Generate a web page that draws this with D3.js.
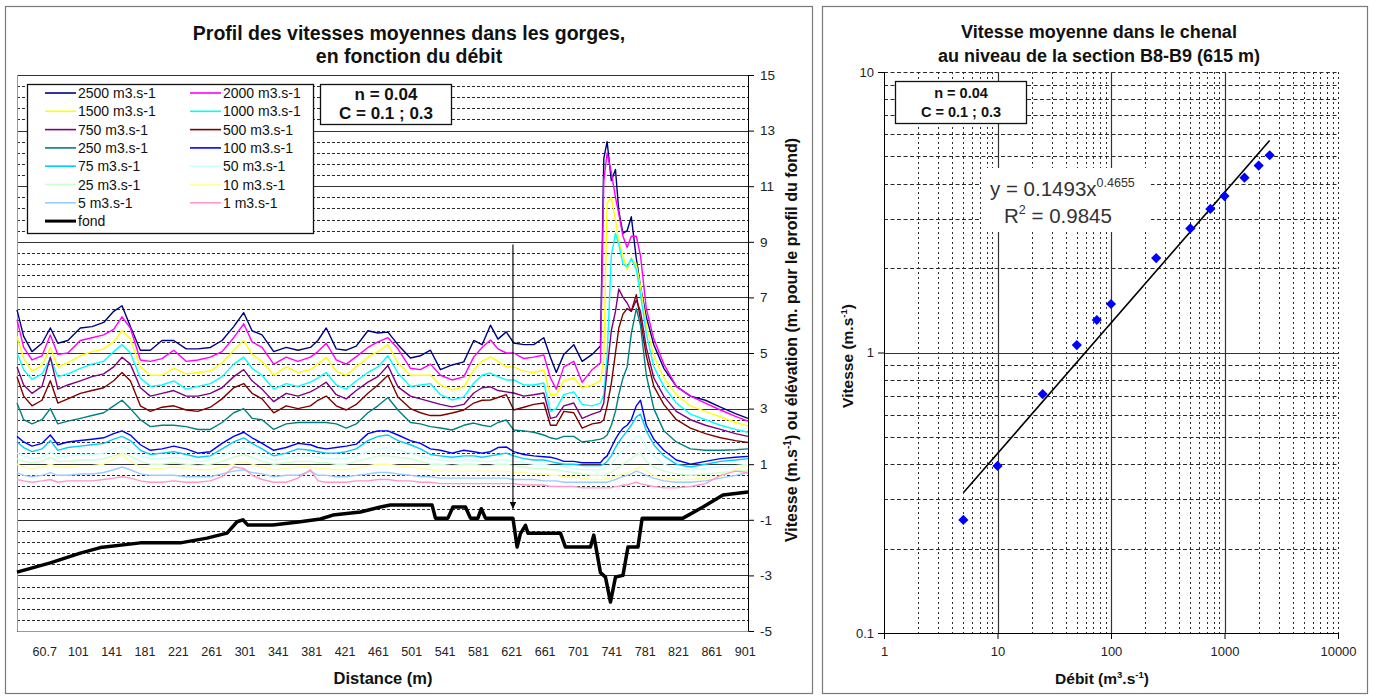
<!DOCTYPE html>
<html><head><meta charset="utf-8">
<script src="https://cdn.jsdelivr.net/npm/d3@7"></script>
<style>
body{margin:0;background:#fff;}
svg{display:block;font-family:'Liberation Sans',Arial,Helvetica,sans-serif;}
</style></head><body>
<svg id="c" width="1373" height="698"></svg>
<script>
// ================= DATA : left chart =================
const distances = [28,36,46,58,68,77,89,104,118,132,144,154,164,176,188,202,216,231,245,260,274,288,300,310,322,336,351,365,380,389,399,411,423,435,449,461,473,485,500,512,524,536,550,564,576,586,596,605,615,624,636,648,660,668,675,684,696,706,718,728,732,736,741,746,750,755,760,765,771,776,783,792,804,819,836,854,872,890,905];
const q2500 = [6.55,5.6,5.05,5.35,5.9,5.35,5.45,5.9,5.95,6.1, 6.5,6.7,5.95,5.1,5.1,5.45,5.45,5.15,5.15,5.2, 5.45,5.95,6.45,5.8,5.65,5.05,5.2,5.1,5.2,5.45, 5.9,5.15,5.1,5.25,5.8,5.72,5.75,5.3,4.82,4.9, 5.1,4.4,4.57,4.68,5.45,5.3,6.0,5.5,5.76,5.36, 5.3,5.3,5.55,4.85,4.3,4.95,5.3,4.7,4.95,5.25, 12.0,12.6,11.2,11.6,10.1,9.3,9.4,9.9,8.4,7.4, 6.3,5.3,4.45,3.8,3.45,3.3,3.05,2.82,2.65];
const q2000 = [6.2,5.2,4.75,4.9,5.65,4.95,5.0,5.45,5.55,5.65, 5.85,6.3,5.9,4.75,4.7,4.8,5.1,4.7,4.75,4.85, 5.05,5.55,6.05,5.4,5.2,4.6,4.85,4.7,4.85,5.05, 5.35,4.75,4.6,4.87,5.2,5.4,5.55,5.15,4.45,4.4, 4.6,4.2,4.03,4.14,4.86,5.2,5.47,5.15,5.0,5.0, 4.8,4.85,4.93,4.1,3.7,4.5,4.7,3.95,4.4,4.65, 11.2,12.2,11.5,10.6,10.0,9.2,8.8,9.2,9.2,8.5, 6.6,5.5,4.6,3.8,3.45,3.2,2.95,2.72,2.55];
const q1500 = [5.6,4.8,4.35,4.55,5.2,4.5,4.65,4.9,5.05,5.15, 5.4,5.8,5.5,4.5,4.2,4.2,4.45,4.25,4.3,4.35, 4.65,5.1,5.45,4.95,4.7,4.2,4.5,4.3,4.4,4.6, 4.85,4.35,4.2,4.5,4.85,5.05,5.3,4.64,4.2,4.2, 4.2,3.85,3.67,3.78,4.39,4.7,4.86,4.7,4.5,4.5, 4.35,4.3,4.39,3.5,3.5,4.0,4.1,3.75,3.85,4.0, 4.8,10.4,10.6,9.8,9.0,8.5,8.0,8.4,8.2,7.4, 6.0,4.9,4.1,3.5,3.1,2.9,2.7,2.5,2.38];
const q1000 = [5.0,4.4,4.05,4.25,4.8,4.15,4.25,4.45,4.6,4.7, 5.05,5.3,5.0,4.1,3.8,3.85,4.0,3.7,3.8,3.9, 4.15,4.6,4.85,4.45,4.2,3.7,3.9,3.8,3.95,4.1, 4.3,3.85,3.7,4.0,4.3,4.5,4.9,4.28,3.8,3.85, 3.9,3.5,3.31,3.42,3.92,4.2,4.28,4.15,4.03,4.03, 3.85,3.85,3.92,2.9,3.0,3.5,3.6,3.15,3.1,3.2, 3.5,4.9,8.5,9.3,8.9,8.2,8.1,8.4,8.0,7.1, 5.7,4.5,3.8,3.2,2.8,2.6,2.4,2.25,2.15];
const q750 = [4.5,3.85,3.55,3.8,4.85,3.7,3.85,4.0,4.15,4.25, 4.5,4.85,4.6,3.75,3.45,3.55,3.65,3.45,3.45,3.55, 3.75,4.15,4.4,4.0,3.7,3.25,3.55,3.45,3.6,3.75, 3.95,3.5,3.35,3.65,3.95,4.15,4.55,3.78,3.45,3.35, 3.25,3.15,3.06,3.15,3.56,3.75,3.78,3.65,3.6,3.56, 3.45,3.5,3.56,2.65,2.7,3.1,3.2,2.65,2.8,2.9, 3.2,4.4,5.8,6.5,7.3,7.0,6.8,6.5,6.9,6.5, 5.2,4.1,3.45,2.9,2.6,2.4,2.25,2.1,2.0];
const q500 = [4.15,3.45,3.1,3.3,4.0,3.2,3.35,3.55,3.65,3.75, 4.0,4.3,4.0,3.1,2.9,3.05,3.1,2.95,2.9,3.05, 3.35,3.75,3.9,3.55,3.35,2.85,3.1,3.0,3.1,3.3, 3.45,3.1,2.95,3.15,3.55,3.85,4.2,3.42,3.0,2.85, 2.75,2.75,2.84,2.95,3.2,3.3,3.31,3.4,3.5,2.95, 3.05,3.15,3.2,2.4,2.4,2.9,2.85,2.3,2.45,2.5, 2.6,3.1,3.9,5.0,5.9,6.4,6.6,6.5,7.1,6.2, 4.9,3.8,3.15,2.6,2.3,2.1,1.95,1.85,1.78];
const q250 = [3.2,2.6,2.45,2.6,3.0,2.45,2.55,2.65,2.75,2.85, 3.1,3.3,3.0,2.6,2.35,2.4,2.4,2.35,2.25,2.25, 2.5,2.85,3.0,2.65,2.6,2.25,2.45,2.5,2.5,2.5, 2.5,2.45,2.3,2.45,2.85,3.1,3.4,2.95,2.5,2.45, 2.35,2.3,2.23,2.4,2.48,2.4,2.35,2.5,2.59,2.23, 2.2,2.15,2.05,1.95,1.9,2.0,2.0,1.8,1.85,1.9, 1.95,2.05,2.4,2.9,3.5,4.1,4.5,5.7,6.6,6.0, 4.2,3.0,2.2,1.8,1.55,1.5,1.5,1.52,1.55];
const q100 = [2.0,1.8,1.65,1.75,2.05,1.7,1.8,1.85,1.9,1.95, 2.1,2.2,2.05,1.7,1.5,1.55,1.65,1.55,1.4,1.45, 1.75,2.0,2.15,1.95,1.75,1.5,1.6,1.75,1.7,1.6, 1.55,1.6,1.65,1.72,2.1,2.2,2.2,2.05,1.85,1.75, 1.55,1.5,1.4,1.5,1.45,1.4,1.45,1.6,1.62,1.45, 1.35,1.3,1.27,1.25,1.2,1.1,1.1,1.05,1.05,1.05, 1.2,1.3,1.6,1.9,2.1,2.3,2.4,2.6,3.1,3.3, 2.4,1.9,1.5,1.15,1.0,1.1,1.2,1.25,1.28];
const q75 = [1.8,1.6,1.45,1.55,1.85,1.5,1.6,1.65,1.7,1.75, 1.9,2.0,1.85,1.5,1.35,1.4,1.45,1.35,1.25,1.3, 1.55,1.8,1.95,1.75,1.55,1.3,1.4,1.55,1.5,1.45, 1.4,1.4,1.45,1.55,1.85,2.0,2.05,1.85,1.7,1.55, 1.35,1.3,1.25,1.3,1.3,1.25,1.3,1.35,1.4,1.3, 1.2,1.15,1.15,1.1,1.05,1.0,1.0,0.95,0.95,0.95, 1.0,1.1,1.3,1.6,1.8,2.0,2.2,2.4,2.7,2.8, 2.2,1.7,1.3,1.0,0.9,1.0,1.1,1.15,1.2];
const q50 = [1.4,1.3,1.2,1.25,1.45,1.25,1.3,1.35,1.35,1.4, 1.55,1.65,1.5,1.3,1.2,1.2,1.25,1.2,1.1,1.15, 1.3,1.5,1.6,1.45,1.3,1.15,1.2,1.3,1.3,1.25, 1.2,1.2,1.2,1.3,1.45,1.55,1.6,1.5,1.4,1.3, 1.2,1.15,1.1,1.15,1.15,1.1,1.1,1.15,1.15,1.1, 1.05,1.0,1.0,0.95,0.95,0.9,0.85,0.8,0.8,0.8, 0.85,0.9,1.0,1.2,1.35,1.5,1.65,1.8,2.0,2.0, 1.6,1.3,1.0,0.85,0.8,0.85,0.9,0.95,1.0];
const q25 = [1.2,1.1,1.05,1.1,1.25,1.1,1.1,1.15,1.15,1.2, 1.3,1.4,1.3,1.1,1.0,1.0,1.05,1.0,0.95,1.0, 1.1,1.25,1.35,1.25,1.1,1.0,1.05,1.1,1.1,1.05, 1.05,1.0,1.0,1.1,1.2,1.3,1.3,1.25,1.2,1.1, 1.0,1.0,0.95,1.0,1.0,0.95,0.95,1.0,1.0,0.95, 0.9,0.85,0.85,0.8,0.8,0.75,0.7,0.65,0.6,0.6, 0.6,0.65,0.7,0.8,0.9,1.0,1.1,1.2,1.35,1.4, 1.1,0.9,0.75,0.65,0.6,0.65,0.7,0.75,0.8];
const q10 = [1.0,0.9,0.85,0.9,1.0,0.9,0.9,0.95,0.95,1.0, 1.2,1.35,1.1,0.9,0.85,0.85,0.9,0.85,0.8,0.8, 0.9,1.0,1.1,1.0,0.9,0.8,0.85,0.9,0.9,0.85, 0.85,0.8,0.8,0.85,0.95,1.0,1.0,0.95,0.9,0.85, 0.8,0.75,0.75,0.75,0.75,0.75,0.75,0.75,0.75,0.7, 0.7,0.65,0.65,0.6,0.6,0.55,0.55,0.5,0.45,0.45, 0.45,0.5,0.5,0.55,0.6,0.65,0.7,0.75,0.85,0.9, 0.75,0.6,0.5,0.45,0.45,0.5,0.55,0.8,0.95];
const q5 = [0.7,0.6,0.55,0.6,0.7,0.6,0.6,0.65,0.65,0.7, 0.8,0.9,0.8,0.65,0.6,0.6,0.6,0.55,0.55,0.55, 0.65,0.75,0.8,0.7,0.65,0.55,0.6,0.6,0.75,0.6, 0.6,0.55,0.55,0.6,0.65,0.7,0.7,0.65,0.6,0.55, 0.55,0.5,0.5,0.5,0.5,0.5,0.5,0.5,0.5,0.45, 0.45,0.45,0.4,0.4,0.4,0.35,0.35,0.35,0.35,0.35, 0.35,0.35,0.4,0.45,0.5,0.55,0.6,0.65,0.75,0.7, 0.6,0.5,0.4,0.35,0.35,0.4,0.5,0.6,0.7];
const q1 = [0.45,0.4,0.35,0.4,0.45,0.35,0.4,0.4,0.4,0.45, 0.5,0.55,0.5,0.4,0.35,0.35,0.4,0.35,0.35,0.4, 0.55,0.9,0.85,0.6,0.45,0.35,0.35,0.5,0.8,0.4, 0.35,0.35,0.35,0.4,0.4,0.45,0.45,0.4,0.4,0.35, 0.35,0.3,0.3,0.3,0.3,0.3,0.3,0.3,0.3,0.3, 0.25,0.25,0.25,0.2,0.2,0.2,0.2,0.15,0.15,0.15, 0.15,0.15,0.15,0.2,0.2,0.25,0.25,0.3,0.35,0.3, 0.25,0.2,0.15,0.15,0.2,0.3,0.6,0.75,0.7];
const fondDist = [28,68,104,128,176,224,256,280,292,299,305,335,368,392,407,440,464,476,526,530,545,551,566,572,581,585,590,623,628,632,638,641,680,686,716,720,728,734,740,746,755,761,773,778,827,851,875,905];
const fondElev = [-2.88,-2.55,-2.2,-2.0,-1.83,-1.83,-1.66,-1.48,-1.07,-1.0,-1.19,-1.19,-1.07,-0.97,-0.83,-0.72,-0.54,-0.47,-0.47,-0.94,-0.94,-0.54,-0.54,-0.94,-0.94,-0.6,-0.94,-0.94,-1.98,-1.5,-1.2,-1.48,-1.48,-1.98,-1.98,-1.55,-2.9,-3.06,-3.96,-3.06,-3.0,-1.98,-1.98,-0.94,-0.94,-0.54,-0.11,0.0];
const seriesNames = ["2500 m3.s-1","2000 m3.s-1","1500 m3.s-1","1000 m3.s-1","750 m3.s-1","500 m3.s-1","250 m3.s-1","100 m3.s-1","75 m3.s-1","50 m3.s-1","25 m3.s-1","10 m3.s-1","5 m3.s-1","1 m3.s-1"];
const seriesValues = [q2500,q2000,q1500,q1000,q750,q500,q250,q100,q75,q50,q25,q10,q5,q1];
const distanceTicks = [60.7,101,141,181,221,261,301,341,381,421,461,501,541,581,621,661,701,741,781,821,861,901];
const elevationTicks = [15,13,11,9,7,5,3,1,-1,-3,-5];
const arrowDistance = 623, arrowFrom = 8.9, arrowTo = -0.6;
const leftTitle = ["Profil des vitesses moyennes dans les gorges,","en fonction du débit"];
const paramText = ["n = 0.04","C = 0.1 ; 0.3"];

// ================= DATA : right chart =================
const debits = [5,10,25,50,75,100,250,500,750,1000,1500,2000,2500];
const vitesses = [0.253,0.394,0.711,1.063,1.306,1.489,2.17,2.77,3.25,3.61,4.20,4.64,5.05];
const trendDebit = [5,2500];
const trendVitesse = [0.316,5.70];
const debitTicks = [1,10,100,1000,10000];
const vitesseTicks = [0.1,1,10];
const rightTitle = ["Vitesse moyenne dans le chenal","au niveau de la section B8-B9 (615 m)"];

// ================= STYLE =================
const seriesColors = ["#000080","#FF00FF","#FFFF00","#00FFFF","#800080","#800000","#008080","#0000FF","#00CCFF","#CCFFFF","#CCFFCC","#FFFF99","#99CCFF","#FF99CC"];
const GRID = "#2a2a2a";
const FONT = "'Liberation Sans',Arial,sans-serif";

const svg = d3.select("#c");
svg.append("rect").attr("width",1373).attr("height",698).attr("fill","#fff");

// panels
svg.append("rect").attr("x",5.5).attr("y",6.5).attr("width",807).attr("height",687).attr("fill","#fff").attr("stroke","#7a7a7a").attr("stroke-width",1.2);
svg.append("rect").attr("x",822.5).attr("y",6.5).attr("width",545).attr("height",687).attr("fill","#fff").attr("stroke","#7a7a7a").attr("stroke-width",1.2);

// ---------- left chart ----------
const L = {x0:17, x1:748, y0:75, y1:631};
const xL = d3.scaleLinear().domain([28,905]).range([L.x0,L.x1]);
const yL = d3.scaleLinear().domain([-5,15]).range([L.y1,L.y0]);
const gl = svg.append("g");

const minorVals = d3.range(0,51).map(k=>-5+0.4*k).filter((v,k)=>k%5!==0);
gl.selectAll("line.minor").data(minorVals).join("line")
  .attr("x1",L.x0).attr("x2",L.x1).attr("y1",d=>Math.round(yL(d))+0.5).attr("y2",d=>Math.round(yL(d))+0.5)
  .attr("stroke",GRID).attr("stroke-width",1).attr("stroke-dasharray","3,2");
gl.selectAll("line.major").data(elevationTicks).join("line")
  .attr("x1",L.x0).attr("x2",L.x1).attr("y1",d=>Math.round(yL(d))+0.5).attr("y2",d=>Math.round(yL(d))+0.5)
  .attr("stroke","#333").attr("stroke-width",1.2);
gl.append("line").attr("x1",L.x0+0.5).attr("x2",L.x0+0.5).attr("y1",L.y0).attr("y2",L.y1).attr("stroke","#999");

const lineL = d3.line().x((d,i)=>xL(distances[i])).y(d=>yL(d));
seriesValues.forEach((vals,k)=>{
  gl.append("path").attr("d",lineL(vals)).attr("fill","none").attr("stroke",seriesColors[k]).attr("stroke-width",1.4).attr("stroke-linejoin","round");
});
const lineF = d3.line().x((d,i)=>xL(fondDist[i])).y(d=>yL(d));
gl.append("path").attr("d",lineF(fondElev)).attr("fill","none").attr("stroke","#000").attr("stroke-width",3.5).attr("stroke-linejoin","round");

const defs = svg.append("defs");
defs.append("marker").attr("id","arr").attr("viewBox","0 0 10 10").attr("refX",10).attr("refY",5)
  .attr("markerWidth",6).attr("markerHeight",6).attr("orient","auto")
  .append("path").attr("d","M0,0L10,5L0,10z").attr("fill","#000");
gl.append("line").attr("x1",xL(arrowDistance)).attr("x2",xL(arrowDistance)).attr("y1",yL(arrowFrom)).attr("y2",yL(arrowTo))
  .attr("stroke","#000").attr("stroke-width",1.1).attr("marker-end","url(#arr)");

const axR = gl.append("g").attr("transform",`translate(${L.x1},0)`)
  .call(d3.axisRight(yL).tickValues(elevationTicks).tickSize(6).tickFormat(d=>String(d)));
axR.select(".domain").attr("stroke","#000");
axR.selectAll(".tick line").attr("stroke","#000");
axR.selectAll("text").attr("font-size",13.5).attr("fill","#222").attr("font-family",FONT).attr("x",12);

const axB = gl.append("g").attr("transform",`translate(0,${L.y1})`)
  .call(d3.axisBottom(xL).tickValues(distanceTicks).tickSize(0).tickFormat(d=>String(d)));
axB.select(".domain").attr("stroke","#999");
axB.selectAll("text").attr("font-size",12.5).attr("fill","#222").attr("font-family",FONT).attr("y",16);

gl.selectAll("text.t").data(leftTitle).join("text").attr("x",409).attr("y",(d,i)=>40+i*23)
  .attr("text-anchor","middle").attr("font-weight","bold").attr("font-size",19.5).attr("fill","#111").text(d=>d);
gl.append("text").attr("x",383).attr("y",684).attr("text-anchor","middle").attr("font-weight","bold").attr("font-size",16.5).attr("fill","#111").text("Distance (m)");
const yt = gl.append("text").attr("transform","translate(797,340) rotate(-90)").attr("text-anchor","middle")
  .attr("font-weight","bold").attr("font-size",16).attr("fill","#111");
yt.append("tspan").text("Vitesse (m.s");
yt.append("tspan").attr("dy",-6).attr("font-size",10).text("-1");
yt.append("tspan").attr("dy",6).text(") ou élévation (m. pour le profil du fond)");

const lg = gl.append("g");
lg.append("rect").attr("x",27.5).attr("y",84.5).attr("width",286).attr("height",149).attr("fill","#fff").attr("stroke","#111").attr("stroke-width",1.3);
const legendItems = seriesNames.map((n,i)=>({name:n,color:seriesColors[i],w:1.6})).concat([{name:"fond",color:"#000",w:3}]);
legendItems.forEach((it,i)=>{
  const col = i<14 ? i%2 : 0, row = Math.floor(i/2);
  const lx = col===0 ? 45 : 190, ty = 93 + row*18.3;
  lg.append("line").attr("x1",lx).attr("x2",lx+31).attr("y1",ty).attr("y2",ty).attr("stroke",it.color).attr("stroke-width",it.w);
  lg.append("text").attr("x",lx+33).attr("y",ty+5).attr("font-size",14).attr("fill","#111").text(it.name);
});

gl.append("rect").attr("x",320.5).attr("y",84.5).attr("width",131).attr("height",40).attr("fill","#fff").attr("stroke","#111").attr("stroke-width",1.3);
gl.selectAll("text.p").data(paramText).join("text").attr("x",386).attr("y",(d,i)=>100+i*19)
  .attr("text-anchor","middle").attr("font-weight","bold").attr("font-size",17).attr("fill","#111").text(d=>d);

// ---------- right chart ----------
const R = {x0:884, x1:1338, y0:72, y1:633};
const xR = d3.scaleLog().domain([1,10000]).range([R.x0,R.x1]);
const yR = d3.scaleLog().domain([0.1,10]).range([R.y1,R.y0]);
const gr = svg.append("g");

const xMinor = [], yMinor = [];
[1,10,100,1000].forEach(b=>{ for(let m=2;m<=9;m++) xMinor.push(b*m); });
xMinor.push(10000);
[0.1,1].forEach(b=>{ for(let m=2;m<=9;m++) yMinor.push(b*m); });
yMinor.push(10);

gr.selectAll("line.ym").data(yMinor).join("line")
  .attr("x1",R.x0).attr("x2",R.x1).attr("y1",d=>Math.round(yR(d))+0.5).attr("y2",d=>Math.round(yR(d))+0.5)
  .attr("stroke",GRID).attr("stroke-dasharray","4,2.5");
gr.selectAll("line.xm").data(xMinor).join("line")
  .attr("y1",R.y0).attr("y2",R.y1).attr("x1",d=>Math.round(xR(d))+0.5).attr("x2",d=>Math.round(xR(d))+0.5)
  .attr("stroke",GRID).attr("stroke-dasharray","2,3");
gr.selectAll("line.xM").data([10,100,1000]).join("line")
  .attr("y1",R.y0).attr("y2",R.y1).attr("x1",d=>Math.round(xR(d))+0.5).attr("x2",d=>Math.round(xR(d))+0.5)
  .attr("stroke","#333").attr("stroke-width",1.2);
gr.append("line").attr("x1",R.x0).attr("x2",R.x1).attr("y1",Math.round(yR(1))+0.5).attr("y2",Math.round(yR(1))+0.5).attr("stroke","#333").attr("stroke-width",1.2);

gr.append("rect").attr("x",981).attr("y",168).attr("width",170).attr("height",64).attr("fill","#fff");
const eq1 = gr.append("text").attr("x",990).attr("y",196).attr("font-size",20.5).attr("fill","#333");
eq1.append("tspan").text("y = 0.1493x");
eq1.append("tspan").attr("dy",-9).attr("font-size",12.5).text("0.4655");
const eq2 = gr.append("text").attr("x",1004).attr("y",223).attr("font-size",20.5).attr("fill","#333");
eq2.append("tspan").text("R");
eq2.append("tspan").attr("dy",-9).attr("font-size",12.5).text("2");
eq2.append("tspan").attr("dy",9).text(" = 0.9845");

const axL2 = gr.append("g").attr("transform",`translate(${R.x0},0)`)
  .call(d3.axisLeft(yR).tickValues(vitesseTicks).tickSize(6).tickFormat(d=>String(d)));
axL2.select(".domain").attr("stroke","#000");
axL2.selectAll(".tick line").attr("stroke","#000");
axL2.selectAll("text").attr("font-size",13).attr("fill","#222").attr("font-family",FONT).attr("x",-10);
const axB2 = gr.append("g").attr("transform",`translate(0,${R.y1})`)
  .call(d3.axisBottom(xR).tickValues(debitTicks).tickSize(6).tickFormat(d=>String(d)));
axB2.select(".domain").attr("stroke","#000");
axB2.selectAll(".tick line").attr("stroke","#000");
axB2.selectAll("text").attr("font-size",13).attr("fill","#222").attr("font-family",FONT).attr("y",14);

const lineR = d3.line().x((d,i)=>xR(trendDebit[i])).y(d=>yR(d));
gr.append("path").attr("d",lineR(trendVitesse)).attr("fill","none").attr("stroke","#000").attr("stroke-width",1.6);

gr.selectAll("path.pt").data(debits).join("path")
  .attr("d",d3.symbol(d3.symbolSquare,52)())
  .attr("transform",(d,i)=>`translate(${xR(d)},${yR(vitesses[i])}) rotate(45)`)
  .attr("fill","#0000FF");

gr.append("rect").attr("x",895.5).attr("y",81.5).attr("width",131).attr("height",42).attr("fill","#fff").attr("stroke","#111").attr("stroke-width",1.3);
gr.selectAll("text.p2").data(paramText).join("text").attr("x",961).attr("y",(d,i)=>98+i*19)
  .attr("text-anchor","middle").attr("font-weight","bold").attr("font-size",14.5).attr("fill","#111").text(d=>d);

gr.selectAll("text.t2").data(rightTitle).join("text").attr("x",1099).attr("y",(d,i)=>38+i*24)
  .attr("text-anchor","middle").attr("font-weight","bold").attr("font-size",18).attr("fill","#111").text(d=>d);
const xt2 = gr.append("text").attr("x",1102).attr("y",684).attr("text-anchor","middle").attr("font-weight","bold").attr("font-size",15.5).attr("fill","#111");
xt2.append("tspan").text("Débit (m");
xt2.append("tspan").attr("dy",-6).attr("font-size",9.5).text("3");
xt2.append("tspan").attr("dy",6).text(".s");
xt2.append("tspan").attr("dy",-6).attr("font-size",9.5).text("-1");
xt2.append("tspan").attr("dy",6).text(")");
const yt2 = gr.append("text").attr("transform","translate(853,356) rotate(-90)").attr("text-anchor","middle").attr("font-weight","bold").attr("font-size",15.5).attr("fill","#111");
yt2.append("tspan").text("Vitesse (m.s");
yt2.append("tspan").attr("dy",-6).attr("font-size",9.5).text("-1");
yt2.append("tspan").attr("dy",6).text(")");
</script>
</body></html>
